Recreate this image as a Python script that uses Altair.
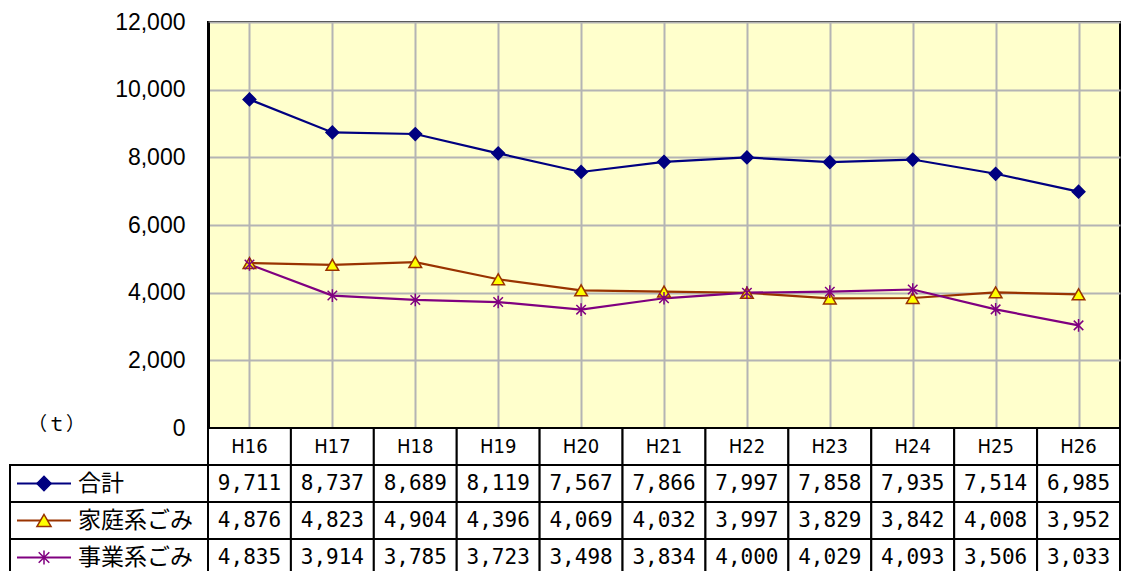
import altair as alt
import pandas as pd

# ---- data ----
categories = ["H16", "H17", "H18", "H19", "H20", "H21", "H22", "H23", "H24", "H25", "H26"]
series_names = ["合計", "家庭系ごみ", "事業系ごみ"]
total = [9711, 8737, 8689, 8119, 7567, 7866, 7997, 7858, 7935, 7514, 6985]
household = [4876, 4823, 4904, 4396, 4069, 4032, 3997, 3829, 3842, 4008, 3952]
business = [4835, 3914, 3785, 3723, 3498, 3834, 4000, 4029, 4093, 3506, 3033]
y_ticks = [0, 2000, 4000, 6000, 8000, 10000, 12000]
unit_label = "（ｔ）"

# ---- styles ----
line_colors = ["#000080", "#993300", "#800080"]
marker_fills = ["#000080", "#FFFF00", "#800080"]
ASTERISK = "M0,-1L0,1M-0.75,-0.75L0.75,0.75M-0.75,0.75L0.75,-0.75"
marker_shapes = ["diamond", "triangle-up", ASTERISK]
LINE_KEY = "M-1,0L1,0"
HEADER_KEY = "_h"
row_domain = [HEADER_KEY] + series_names

rows = []
for s, vals in zip(series_names, [total, household, business]):
    for c, v in zip(categories, vals):
        rows.append({"cat": c, "series": s, "value": v})
df = pd.DataFrame(rows)

trows = [{"cat": c, "row": HEADER_KEY, "value": None, "label": c} for c in categories]
for s, vals in zip(series_names, [total, household, business]):
    for c, v in zip(categories, vals):
        trows.append({"cat": c, "row": s, "value": v, "label": ""})
df_table = pd.DataFrame(trows)
df_names = pd.DataFrame({"series": series_names})

stroke_scale = alt.Scale(domain=series_names, range=line_colors)
fill_scale = alt.Scale(domain=series_names, range=marker_fills)
shape_scale = alt.Scale(domain=series_names, range=marker_shapes)
x_scale = alt.Scale(domain=categories, paddingInner=0, paddingOuter=0)
row_scale = alt.Scale(domain=row_domain, paddingInner=0, paddingOuter=0)

W, H = 912, 406
LABEL_W, TABLE_H = 198, 148

# ---- top: line chart ----
x_enc = alt.X("cat:N", sort=categories, scale=x_scale,
              axis=alt.Axis(labels=False, ticks=False, domain=False, grid=True,
                            gridColor="#B4B4B4", gridWidth=2, bandPosition=0, title=None))
y_enc = alt.Y("value:Q", scale=alt.Scale(domain=[0, 12000], nice=False),
              axis=alt.Axis(values=y_ticks, format=",d", labelFont="Liberation Sans",
                            labelFontSize=23, labelColor="black", labelPadding=23,
                            ticks=False, domainColor="black", domainWidth=3,
                            gridColor="#B4B4B4", gridWidth=2,
                            title=unit_label, titleAngle=0, titleX=-152, titleY=402,
                            titleAlign="center", titleBaseline="middle",
                            titleFont="Noto Sans CJK JP", titleFontSize=19,
                            titleFontWeight="normal", titleColor="black"))
base = alt.Chart(df).encode(x=x_enc, y=y_enc)
lines = base.mark_line(strokeWidth=2.2).encode(
    stroke=alt.Stroke("series:N", scale=stroke_scale, legend=None))
points = base.mark_point(opacity=1, size=160, strokeWidth=1.5).encode(
    shape=alt.Shape("series:N", scale=shape_scale, legend=None),
    fill=alt.Fill("series:N", scale=fill_scale, legend=None),
    stroke=alt.Stroke("series:N", scale=stroke_scale, legend=None))
top = alt.layer(lines, points).properties(
    width=W, height=H,
    view=alt.ViewBackground(fill="#FFFFCC", stroke="black", strokeWidth=2))

blank = alt.Chart(df_names).mark_point().encode(opacity=alt.value(0)).properties(
    width=LABEL_W, height=H)

# ---- bottom-left: legend/label column ----
lab_y = alt.Y("series:N", scale=row_scale, axis=None)
lab_base = alt.Chart(df_names).encode(y=lab_y)
lab_cells = lab_base.mark_rect(fill="white", stroke="black", strokeWidth=2)
lab_keys = lab_base.mark_point(shape=LINE_KEY, size=54 * 54, strokeWidth=2,
                               opacity=1, xOffset=-65).encode(
    stroke=alt.Stroke("series:N", scale=stroke_scale, legend=None))
lab_marks = lab_base.mark_point(opacity=1, size=200, strokeWidth=1.5, xOffset=-65).encode(
    shape=alt.Shape("series:N", scale=shape_scale, legend=None),
    fill=alt.Fill("series:N", scale=fill_scale, legend=None),
    stroke=alt.Stroke("series:N", scale=stroke_scale, legend=None))
lab_text = lab_base.mark_text(align="left", baseline="middle", dx=-31,
                              font="Noto Sans CJK JP", fontSize=23, color="black").encode(
    text="series:N")
labels = alt.layer(lab_cells, lab_keys, lab_marks, lab_text).properties(
    width=LABEL_W, height=TABLE_H)

# ---- bottom-right: data table ----
t_base = alt.Chart(df_table).encode(
    x=alt.X("cat:N", sort=categories, scale=x_scale, axis=None),
    y=alt.Y("row:N", scale=row_scale, axis=None))
t_cells = t_base.mark_rect(fill="white", stroke="black", strokeWidth=2)
t_head = t_base.transform_filter(alt.datum.row == HEADER_KEY).mark_text(
    font="Liberation Sans Narrow, DejaVu Sans Condensed, sans-serif", fontSize=20,
    color="black", baseline="middle").encode(text="label:N")
t_vals = t_base.transform_filter(alt.datum.row != HEADER_KEY).mark_text(
    font="DejaVu Sans Mono", fontSize=21, color="black", baseline="middle").encode(
    text=alt.Text("value:Q", format=","))
table = alt.layer(t_cells, t_head, t_vals).properties(width=W, height=TABLE_H)

chart = alt.concat(blank, top, labels, table, columns=2, spacing=0, bounds="flush").properties(
    padding={"left": 1, "top": 2, "right": 0, "bottom": 0}
).configure_view(stroke=None)

chart.save("out.html", embed_options={"renderer": "svg", "actions": False})
